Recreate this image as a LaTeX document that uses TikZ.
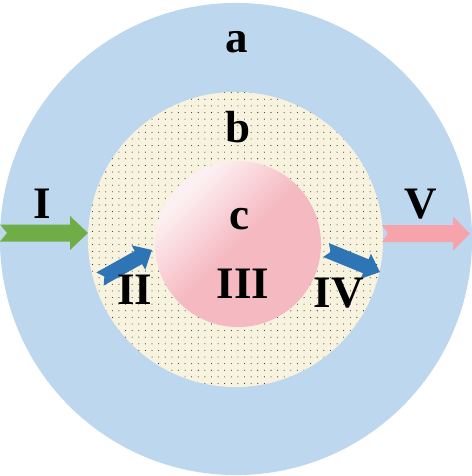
\documentclass[tikz,border=0pt]{standalone}
\usepackage{fontspec}
\setmainfont{Liberation Serif}
\usetikzlibrary{patterns.meta}

\definecolor{outerblue}{HTML}{BDD7EE}
\definecolor{beige}{HTML}{F8F3DF}
\definecolor{pinklight}{HTML}{FDF0F2}
\definecolor{pinkdeep}{HTML}{F5B9C1}
\definecolor{flowgreen}{HTML}{70AD47}
\definecolor{flowblue}{HTML}{2E75B6}
\definecolor{flowpink}{HTML}{F7A3AC}

\pgfdeclareverticalshading{corepink}{100bp}{color(0bp)=(pinkdeep); color(50bp)=(pinkdeep); color(72bp)=(pinklight); color(100bp)=(pinklight)}

\tikzset{
  zone/.style={shape=circle, inner sep=0pt},
  lbl/.style={anchor=base, inner sep=0pt, font=\bfseries\fontsize{32}{32}\selectfont},
}

\begin{document}
\begin{tikzpicture}[x=0.025cm, y=-0.025cm]
\useasboundingbox (0,0) rectangle (472,476);
% the three zones
\node[zone, fill=outerblue, minimum size=11.8cm] (a) at (236,239) {};
\node[zone, fill=beige, minimum size=7.375cm, postaction={pattern={Dots[distance=4.7pt, radius=0.38pt]}, pattern color=black!85}] (b) at (235.5,239.5) {};
\node[zone, minimum size=4.15cm, shading=corepink, shading angle=45] (c) at (238,244) {};
% flows in and out
\fill[flowgreen] (0,224.5) -- (70,224.5) -- (70,216) -- (88,233) -- (70,250) -- (70,241.5) -- (0,241.5) -- (7,233) -- cycle;
\fill[flowpink] (382,225) -- (453,225) -- (453,216.5) -- (470,233.5) -- (453,250.5) -- (453,242) -- (382,242) -- (388,233.5) -- cycle;
\begin{scope}[shift={(100,279)}, rotate=29.2]
\fill[flowblue] (0,-7.5) -- (44,-7.5) -- (44,-14) -- (59.5,0) -- (44,14) -- (44,7.5) -- (0,7.5) -- (5,0) -- cycle;
\end{scope}
\begin{scope}[shift={(326,250)}, rotate=-22.2]
\fill[flowblue] (0,-7.5) -- (43,-7.5) -- (43,-13.5) -- (58.3,0) -- (43,13.5) -- (43,7.5) -- (0,7.5) -- (5,0) -- cycle;
\end{scope}
% labels
\node[lbl] (la) at (237,52) {a};
\node[lbl] (lb) at (238,142) {b};
\node[lbl] (lc) at (239,229) {c};
\node[lbl] (l1) at (42,218) {I};
\node[lbl] (l2) at (135,304) {II};
\node[lbl] (l3) at (243,298) {III};
\node[lbl] (l4) at (339,307) {IV};
\node[lbl] (l5) at (421,218) {V};
\end{tikzpicture}
\end{document}
